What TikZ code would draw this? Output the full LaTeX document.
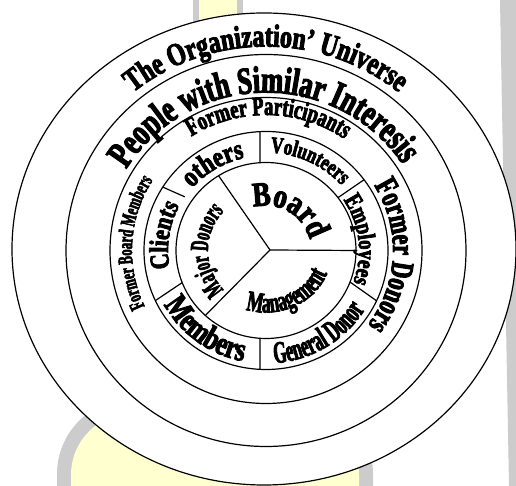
\documentclass[tikz,border=0pt]{standalone}
\usepackage{fontspec}
\setmainfont{Liberation Serif}
\newfontfamily\stB[FakeStretch=0.8,FakeBold=3]{Liberation Serif}
\newfontfamily\stC[FakeStretch=0.75,FakeBold=3]{Liberation Serif}
\newfontfamily\stD[FakeStretch=0.7,FakeBold=3]{Liberation Serif}
\newfontfamily\stE[FakeStretch=0.6,FakeBold=2.5]{Liberation Serif}
\newfontfamily\stF[FakeStretch=0.55,FakeBold=2.5]{Liberation Serif}
\usetikzlibrary{decorations.text}
\definecolor{bgyellow}{RGB}{255,255,208}
\definecolor{bggray}{RGB}{204,204,204}
\tikzset{
  ring/.style={draw=black, line width=1.2pt, fill=white},
  divider/.style={draw=black, line width=1.2pt},
}
\newcommand{\cwlabel}[5]{%
  \path[decorate, decoration={text along path, text align=center, text={|#4|#5}}]
    (C) ++({#1+85}:#2 and #3) arc[start angle={#1+85}, end angle={#1-85}, x radius=#2, y radius=#3];}
\newcommand{\ccwlabel}[5]{%
  \path[decorate, decoration={text along path, text align=center, text={|#4|#5}}]
    (C) ++({#1-85}:#2 and #3) arc[start angle={#1-85}, end angle={#1+85}, x radius=#2, y radius=#3];}
\begin{document}
\begin{tikzpicture}[x=1pt, y=1pt]
\useasboundingbox (0,0) rectangle (516,486);
\fill[white] (0,0) rectangle (516,486);
% background decoration
\fill[bggray] (500,486) -- (516,486) -- (516,0) -- (509,0) -- cycle;
\fill[bggray] (193,486) rectangle (243,380);
\fill[bgyellow] (199,486) rectangle (237,380);
\fill[bggray, rounded corners=75pt] (57,-150) rectangle (373,87);
\fill[bgyellow, rounded corners=62pt] (71,-150) rectangle (359,73);
% rings
\coordinate (C) at (266,235.5);
\path[ring] (264,237) ellipse [x radius=252, y radius=236];
\path[ring] (C) ellipse [x radius=200, y radius=196];
\path[ring] (C) ellipse [x radius=156, y radius=153];
\path[ring] (C) ellipse [x radius=122, y radius=119];
\path[ring] (C) ellipse [x radius=90, y radius=88];
% inner sectors
\coordinate (J) at (270,236);
\path (C) ++(0:90 and 88) coordinate (ya);
\path (C) ++(121.8:90 and 88) coordinate (yb);
\path (C) ++(227.6:90 and 88) coordinate (yc);
\draw[divider] (J) -- (ya);
\draw[divider] (J) -- (yb);
\draw[divider] (J) -- (yc);
% ring dividers
\path (C) ++(93.8:90 and 88) coordinate (d1i);
\path (C) ++(92.8:122 and 119) coordinate (d1o);
\path (C) ++(36.9:90 and 88) coordinate (d2i);
\path (C) ++(36.5:122 and 119) coordinate (d2o);
\path (C) ++(-21:90 and 88) coordinate (d3i);
\path (C) ++(-25:122 and 119) coordinate (d3o);
\path (C) ++(266.2:90 and 88) coordinate (d4i);
\path (C) ++(267.2:122 and 119) coordinate (d4o);
\path (C) ++(201.4:90 and 88) coordinate (d5i);
\path (C) ++(204.9:122 and 119) coordinate (d5o);
\path (C) ++(146:98 and 96) coordinate (d6i);
\path (C) ++(147.8:122 and 119) coordinate (d6o);
\draw[divider] (d1i) -- (d1o);
\draw[divider] (d2i) -- (d2o);
\draw[divider] (d3i) -- (d3o);
\draw[divider] (d4i) -- (d4o);
\draw[divider] (d5i) -- (d5o);
\draw[divider] (d6i) -- (d6o);
% labels
\cwlabel{90}{210}{204}{\stC\bfseries\fontsize{32}{38}\selectfont}{The Organization’ Universe}
\cwlabel{91}{163}{158}{\stD\bfseries\fontsize{38}{45}\selectfont}{People with Similar Interesis}
\cwlabel{89}{138}{135.5}{\stD\bfseries\fontsize{26.5}{32}\selectfont}{Former Participants}
\cwlabel{-2.5}{127}{124}{\stD\bfseries\fontsize{32}{38}\selectfont}{Former Donors}
\cwlabel{176.5}{134}{131}{\stE\bfseries\fontsize{21}{25}\selectfont}{Former Board Members}
\cwlabel{171.5}{98}{96}{\stB\bfseries\fontsize{27}{32}\selectfont}{Clients}
\cwlabel{121.5}{98}{95}{\stB\bfseries\fontsize{29}{35}\selectfont}{others}
\cwlabel{64}{101}{98}{\stC\bfseries\fontsize{23}{28}\selectfont}{Volunteers}
\cwlabel{6.5}{93}{91}{\stC\bfseries\fontsize{25}{30}\selectfont}{Employees}
\ccwlabel{302}{116}{113}{\stF\bfseries\fontsize{31}{37}\selectfont}{General Donor}
\ccwlabel{233}{116}{113}{\stC\bfseries\fontsize{33}{40}\selectfont}{Members}
\cwlabel{180}{58}{57}{\stF\bfseries\fontsize{26}{31}\selectfont}{Major Donors}
\cwlabel{60}{45}{45}{\stB\bfseries\fontsize{34}{40}\selectfont}{Board}
\ccwlabel{296}{66}{62}{\stE\bfseries\fontsize{29}{35}\selectfont}{Management}
\end{tikzpicture}
\end{document}
